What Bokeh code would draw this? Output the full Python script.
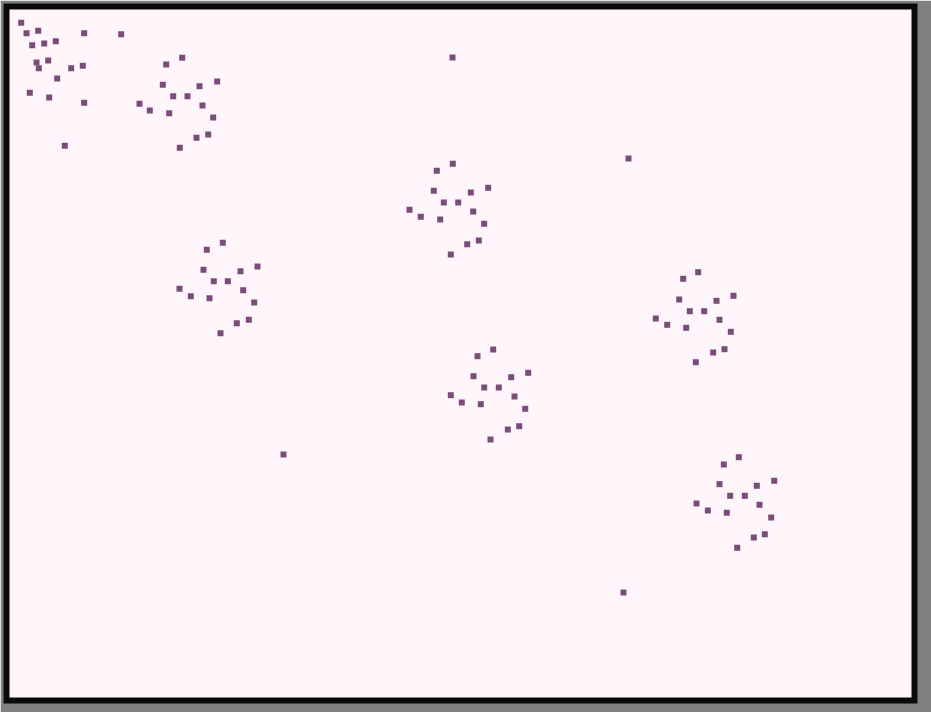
from bokeh.plotting import figure
from bokeh.models import Range1d, ColumnDataSource
from bokeh.embed import file_html
from bokeh.resources import INLINE

# Point positions (pixel-like units, y downward)
corner_x = [20.7, 26, 37.7, 83.7, 120.7, 31.7, 43.7, 55.3, 36, 47.7, 38.3, 70.7, 82.3, 56.7, 29.3, 48.7, 83.7, 64.3]
corner_y = [22.3, 32.7, 30.3, 32.7, 33.7, 44.7, 43, 40.7, 62, 60, 67.7, 67.7, 65.3, 78, 92.3, 97, 102.3, 145.3]

c2_x = [181.7, 165.7, 162.3, 199, 216.7, 172.7, 187, 139, 149.3, 168.7, 202, 212.7, 207.7, 196, 179.3]
c2_y = [57.3, 64, 84.3, 85.7, 81, 95.7, 95.7, 103.3, 110, 112.7, 105, 117, 134, 137.3, 147.3]

c3_x = [452.3, 436.3, 433.3, 470.3, 487.7, 443.3, 457.7, 409, 420.3, 439.7, 472.7, 483.7, 478.3, 466.7, 450.3]
c3_y = [163.3, 170.3, 190.3, 192, 187.3, 202, 202, 209.3, 216.3, 219, 211, 223.3, 240, 243.7, 254]

c4_x = [222.3, 206.3, 203, 240, 257, 213.3, 227.3, 179, 190.3, 209, 242.7, 253.7, 248.3, 236.3, 220]
c4_y = [242.3, 249.3, 269.3, 270.7, 266, 280.7, 280.7, 288.3, 295.7, 297.7, 289.7, 302, 319.3, 322.7, 332.7]

c5_x = [697.7, 682.7, 678.7, 716, 733, 689.3, 703.7, 655.3, 666.7, 685.7, 719, 730.3, 724, 712.7, 695.3]
c5_y = [271.7, 278.3, 299, 300.3, 295.3, 310.7, 310.7, 318, 324.3, 327.3, 319.3, 331.3, 348.7, 352, 361.7]

c6_x = [492.7, 477, 473, 510.7, 527.7, 483.7, 498.3, 450.3, 461.3, 480.3, 514, 524.7, 518.7, 507.3, 490]
c6_y = [349, 355.7, 375.7, 376.7, 372.3, 387, 387, 394.7, 402, 403.7, 396, 408.3, 425.7, 429, 439]

c7_x = [738.3, 723.3, 719, 756.3, 773.7, 729.7, 744.3, 696, 707.3, 726.3, 759, 770.7, 764.3, 753.3, 736.7]
c7_y = [456.7, 464, 483.7, 485.3, 480.3, 495.3, 495.3, 503, 510, 512.3, 504.3, 517, 533.7, 537, 547.3]

single_x = [452, 628, 283, 623]
single_y = [57, 158, 454, 592]

xs = corner_x + c2_x + c3_x + c4_x + c5_x + c6_x + c7_x + single_x
ys = corner_y + c2_y + c3_y + c4_y + c5_y + c6_y + c7_y + single_y

src = ColumnDataSource(data=dict(x=xs, y=ys))

p = figure(width=931, height=712, output_backend="svg", toolbar_location=None,
           x_range=Range1d(6, 914), y_range=Range1d(700, 6),
           x_axis_location=None, y_axis_location=None)
p.min_border = 0
p.min_border_left = 6
p.min_border_right = 17
p.min_border_top = 6
p.min_border_bottom = 12
p.grid.visible = False
p.background_fill_color = "#fff6fc"
p.border_fill_color = "#7f7f7f"
p.outline_line_color = "#0a0a0a"
p.outline_line_width = 6
p.outline_line_join = "miter"

p.scatter("x", "y", source=src, marker="square", size=6,
          fill_color="#7a4c78", line_color=None)

open("out.html", "w").write(file_html(p, INLINE))
